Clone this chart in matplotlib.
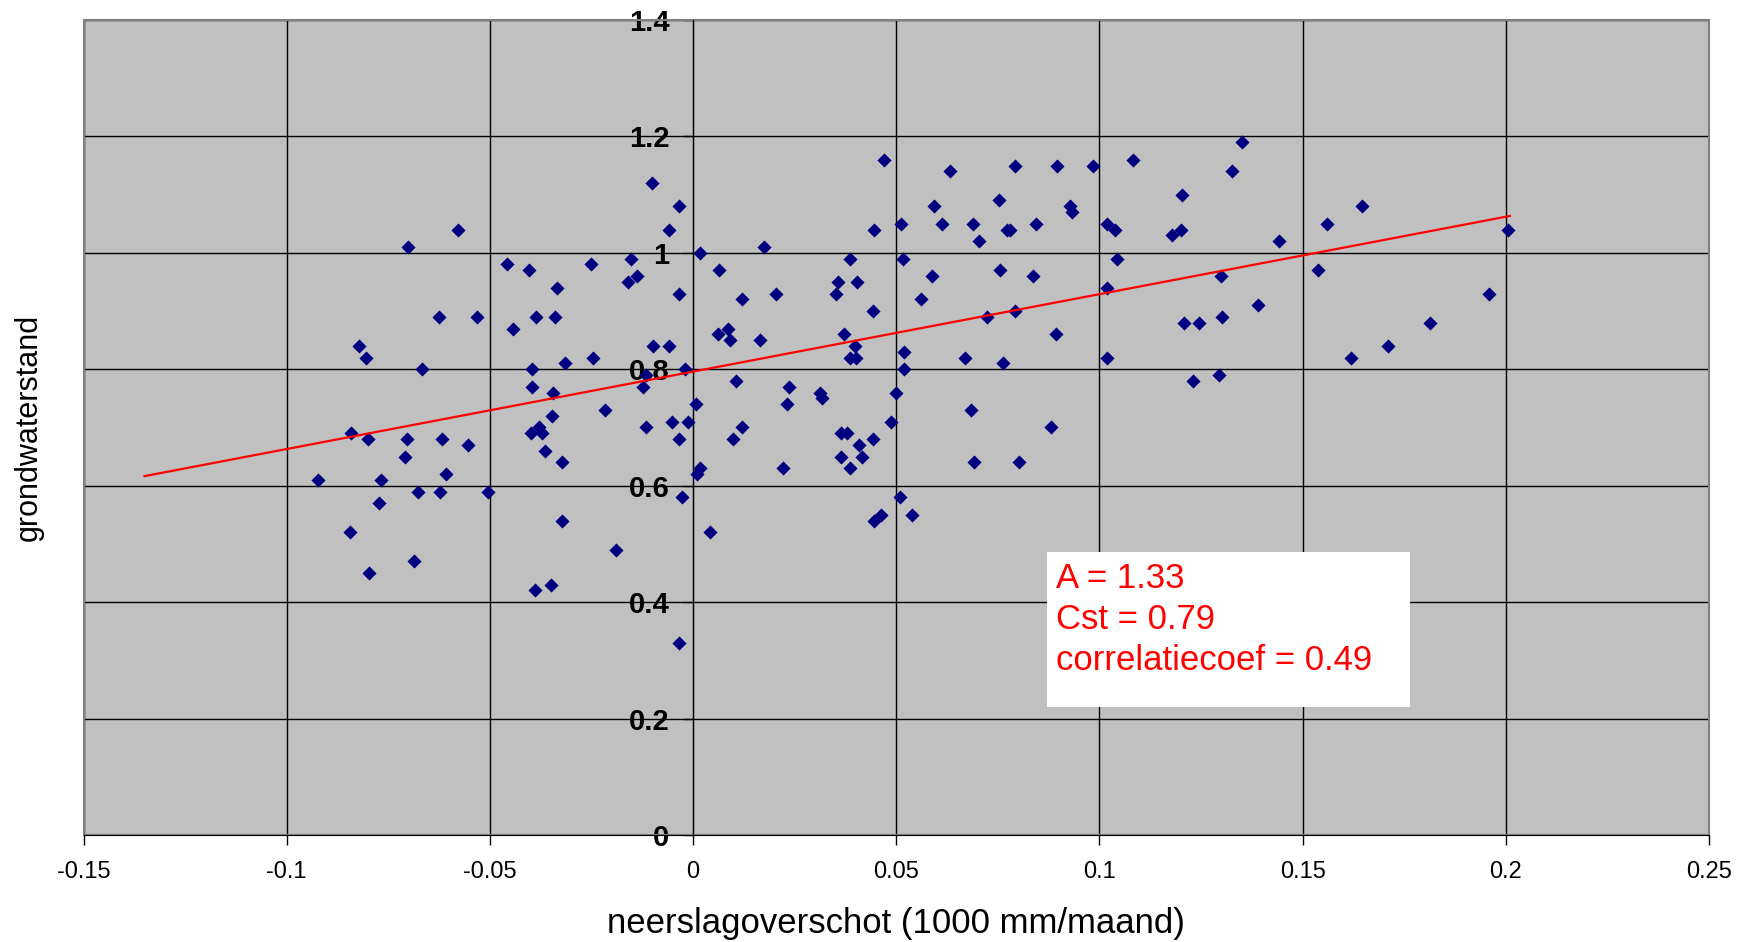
import matplotlib
matplotlib.use("Agg")
import matplotlib.pyplot as plt
from matplotlib.patches import Rectangle
from matplotlib.ticker import FuncFormatter

plt.rcParams['font.family'] = ['Liberation Sans', 'DejaVu Sans']

# neerslagoverschot (x) en grondwaterstand (y)
x_neerslag = [
    -0.0924, -0.0844, -0.0841, -0.0822, -0.0806, -0.0801, -0.0798, -0.0767, -0.0773, -0.0710,
    -0.0704, -0.0702, -0.0688, -0.0677, -0.0666, -0.0625, -0.0622, -0.0617, -0.0608, -0.0578,
    -0.0553, -0.0531, -0.0504, -0.0457, -0.0444, -0.0405, -0.0397, -0.0397, -0.0400, -0.0386,
    -0.0389, -0.0378, -0.0372, -0.0364, -0.0350, -0.0345, -0.0348, -0.0339, -0.0334, -0.0323,
    -0.0323, -0.0315, -0.0252, -0.0246, -0.0216, -0.0189, -0.0161, -0.0153, -0.0137, -0.0123,
    -0.0117, -0.0117, -0.0101, -0.0098, -0.0060, -0.0060, -0.0051, -0.0035, -0.0035, -0.0035,
    -0.0027, -0.0035, -0.0013, -0.0019, 0.0006, 0.0009, 0.0017, 0.0017, 0.0042, 0.0061,
    0.0064, 0.0086, 0.0091, 0.0099, 0.0105, 0.0121, 0.0121, 0.0174, 0.0165, 0.0204,
    0.0220, 0.0231, 0.0237, 0.0313, 0.0316, 0.0352, 0.0357, 0.0363, 0.0363, 0.0371,
    0.0379, 0.0385, 0.0385, 0.0385, 0.0398, 0.0401, 0.0404, 0.0409, 0.0415, 0.0442,
    0.0442, 0.0445, 0.0462, 0.0445, 0.0470, 0.0486, 0.0500, 0.0508, 0.0511, 0.0517,
    0.0519, 0.0519, 0.0538, 0.0560, 0.0588, 0.0593, 0.0613, 0.0632, 0.0670, 0.0684,
    0.0689, 0.0692, 0.0703, 0.0722, 0.0752, 0.0755, 0.0763, 0.0772, 0.0780, 0.0791,
    0.0793, 0.0802, 0.0837, 0.0845, 0.0881, 0.0892, 0.0895, 0.0928, 0.0933, 0.0983,
    0.1019, 0.1019, 0.1019, 0.1038, 0.1043, 0.1082, 0.1178, 0.1200, 0.1202, 0.1208,
    0.1230, 0.1246, 0.1293, 0.1298, 0.1301, 0.1326, 0.1350, 0.1389, 0.1441, 0.1537,
    0.1561, 0.1619, 0.1646, 0.1709, 0.1814, 0.1959, 0.2006,
]
y_grondwater = [
    0.61, 0.52, 0.69, 0.84, 0.82, 0.68, 0.45, 0.61, 0.57, 0.65,
    0.68, 1.01, 0.47, 0.59, 0.80, 0.89, 0.59, 0.68, 0.62, 1.04,
    0.67, 0.89, 0.59, 0.98, 0.87, 0.97, 0.77, 0.80, 0.69, 0.89,
    0.42, 0.70, 0.69, 0.66, 0.43, 0.76, 0.72, 0.89, 0.94, 0.64,
    0.54, 0.81, 0.98, 0.82, 0.73, 0.49, 0.95, 0.99, 0.96, 0.77,
    0.70, 0.79, 1.12, 0.84, 1.04, 0.84, 0.71, 0.93, 1.08, 0.68,
    0.58, 0.33, 0.71, 0.80, 0.74, 0.62, 0.63, 1.00, 0.52, 0.86,
    0.97, 0.87, 0.85, 0.68, 0.78, 0.92, 0.70, 1.01, 0.85, 0.93,
    0.63, 0.74, 0.77, 0.76, 0.75, 0.93, 0.95, 0.65, 0.69, 0.86,
    0.69, 0.99, 0.63, 0.82, 0.84, 0.82, 0.95, 0.67, 0.65, 0.90,
    0.68, 0.54, 0.55, 1.04, 1.16, 0.71, 0.76, 0.58, 1.05, 0.99,
    0.83, 0.80, 0.55, 0.92, 0.96, 1.08, 1.05, 1.14, 0.82, 0.73,
    1.05, 0.64, 1.02, 0.89, 1.09, 0.97, 0.81, 1.04, 1.04, 0.90,
    1.15, 0.64, 0.96, 1.05, 0.70, 0.86, 1.15, 1.08, 1.07, 1.15,
    1.05, 0.94, 0.82, 1.04, 0.99, 1.16, 1.03, 1.04, 1.10, 0.88,
    0.78, 0.88, 0.79, 0.96, 0.89, 1.14, 1.19, 0.91, 1.02, 0.97,
    1.05, 0.82, 1.08, 0.84, 0.88, 0.93, 1.04,
]

# regressie: afgeronde waarden voor het tekstvak, lijn zoals getekend
A = 1.33
Cst = 0.79
corr = 0.49
line_A = 1.33
line_Cst = 0.796
trend_x = [-0.135, 0.201]
trend_y = [line_A * v + line_Cst for v in trend_x]

x_ticks = [-0.15, -0.1, -0.05, 0, 0.05, 0.1, 0.15, 0.2, 0.25]
y_ticks = [0, 0.2, 0.4, 0.6, 0.8, 1, 1.2, 1.4]

fig = plt.figure(figsize=(17.48, 9.42), dpi=100)
ax = fig.add_axes([0.0478, 0.1136, 0.9299, 0.8652])
ax.set_facecolor('#C0C0C0')

ax.set_xlim(-0.15, 0.25)
ax.set_ylim(0, 1.4)
ax.set_xticks(x_ticks)
ax.set_yticks(y_ticks)
ax.grid(True, color='black', linewidth=1.0)
ax.set_axisbelow(True)

ax.scatter(x_neerslag, y_grondwater, marker='D', s=52, color='#000080',
           linewidths=0, zorder=3)
ax.plot(trend_x, trend_y, color='red', linewidth=1.6, zorder=4)

# assen: y-as op x = 0
ax.spines['left'].set_position(('data', 0))
ax.spines['left'].set_color('black')
ax.spines['bottom'].set_color('black')
ax.spines['top'].set_visible(False)
ax.spines['right'].set_visible(False)
ax.add_patch(Rectangle((0, 0), 1, 1, transform=ax.transAxes, fill=False,
                       edgecolor='#808080', linewidth=1.5, zorder=2.5, clip_on=False))

fmt = FuncFormatter(lambda v, pos: f"{v:g}")
ax.xaxis.set_major_formatter(fmt)
ax.yaxis.set_major_formatter(fmt)
ax.tick_params(axis='x', direction='out', length=7, width=1, labelsize=17, pad=12)
ax.tick_params(axis='y', direction='out', length=7, width=1, labelsize=21, pad=10)
for lab in ax.get_yticklabels():
    lab.set_fontweight('bold')

fig.text(0.5125, 1 - 923 / 942, 'neerslagoverschot (1000 mm/maand)',
         ha='center', va='center', fontsize=25)
fig.text(29 / 1748, 1 - 427 / 942, 'grondwaterstand', rotation=90,
         ha='center', va='center', fontsize=22)

# tekstvak met regressieresultaten
ax.add_patch(Rectangle((0.593, 0.157), 0.223, 0.190, transform=ax.transAxes,
                       facecolor='white', edgecolor='none', zorder=5))
ax.text(0.598, 0.335, f"A = {A}\nCst = {Cst}\ncorrelatiecoef = {corr}",
        transform=ax.transAxes, ha='left', va='top', fontsize=25,
        color='red', linespacing=1.3, zorder=6)

fig.savefig('out.png', dpi=100)
